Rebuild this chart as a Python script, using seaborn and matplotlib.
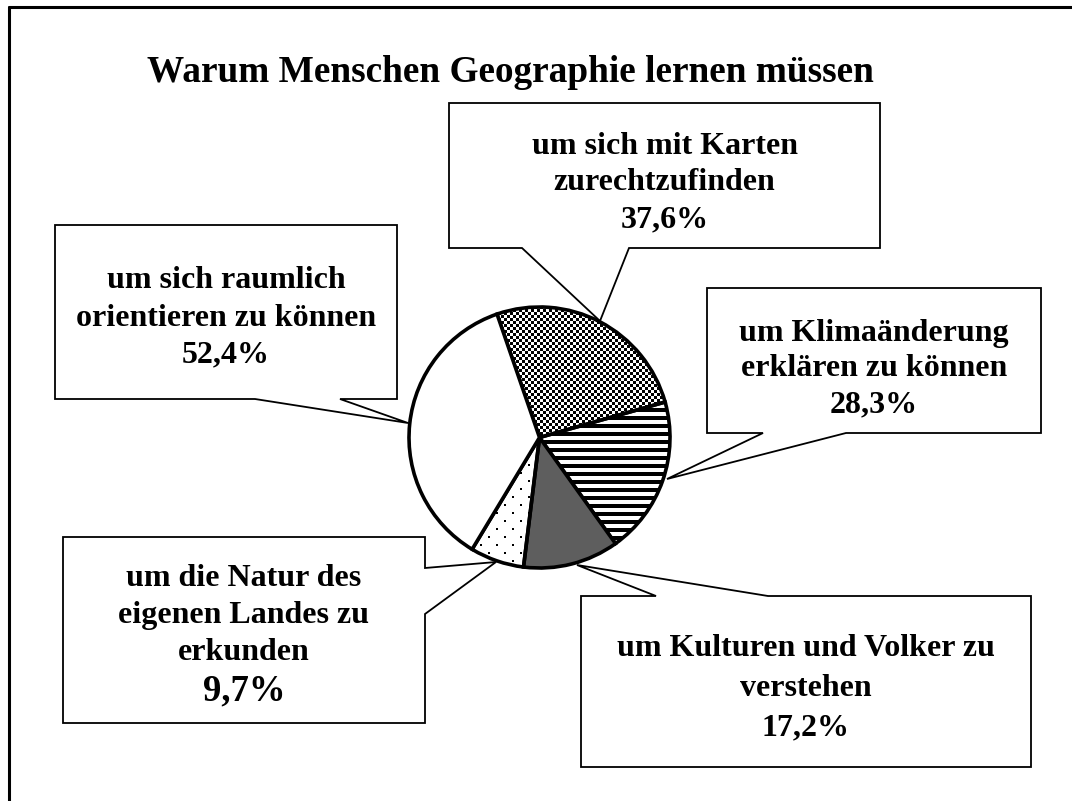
import numpy as np
import seaborn as sns
import matplotlib.pyplot as plt
from matplotlib.patches import Polygon

# Survey answers (multiple answers allowed, so shares add up to more than 100 %)
answers = [
    "um sich mit Karten\nzurechtzufinden",
    "um Klimaänderung\nerklären zu können",
    "um Kulturen und Volker zu\nverstehen",
    "um die Natur des\neigenen Landes zu\nerkunden",
    "um sich raumlich\norientieren zu können",
]
shares = [37.6, 28.3, 17.2, 9.7, 52.4]
fills = ["checker", "stripes", "#5e5e5e", "dots", "white"]
title = "Warum Menschen Geographie lernen müssen"

sns.set_style("white")
plt.rcParams["font.family"] = ["Liberation Serif", "DejaVu Serif"]
plt.rcParams["font.weight"] = "bold"
plt.rcParams["text.color"] = "black"

W, H = 1072, 801
fig = plt.figure(figsize=(W / 100, H / 100), dpi=100)
ax = fig.add_axes([0, 0, 1, 1])

# pie in pixel coordinates (y axis points down)
cx, cy, r = 539.5, 437.5, 130.5
wedges, _ = ax.pie(shares, startangle=-109, counterclock=True, center=(cx, cy), radius=r,
                   colors=["white" if f in ("checker", "stripes", "dots") else f for f in fills],
                   wedgeprops=dict(edgecolor="black", linewidth=2.6))

yy, xx = np.mgrid[0:H, 0:W]
textures = {
    "checker": ((xx // 3 + yy // 3) % 2).astype(float),
    "stripes": (yy % 8 >= 4).astype(float),
    "dots": 1.0 - ((yy % 8 < 2) & ((xx + 8 * ((yy // 8) % 2)) % 16 < 2)).astype(float),
}
for w, f in zip(wedges, fills):
    if f in textures:
        w.set_facecolor("none")
        im = ax.imshow(textures[f], cmap="gray", vmin=0, vmax=1, extent=(0, W, H, 0),
                       interpolation="nearest", zorder=0.5)
        im.set_clip_path(w)

# callout boxes: box, side with pointer, pointer base, pointer tip
boxes = [
    ((449, 103, 880, 248), "bottom", (522, 629), (600, 321)),
    ((707, 288, 1041, 433), "bottom", (763, 846), (667, 479)),
    ((581, 596, 1031, 767), "top", (656, 768), (577, 565)),
    ((63, 537, 425, 723), "right", (568, 614), (496, 562)),
    ((55, 225, 397, 399), "bottom", (255, 340), (408, 423)),
]
first_line = [146, 333, 648, 578, 281]
line_gap = [37, 36, 40, 37, 37]


def callout_outline(box, side, base, tip):
    x0, y0, x1, y1 = box
    b1, b2 = base
    pts = [(x0, y0)]
    if side == "top":
        pts += [(b1, y0), tip, (b2, y0)]
    pts += [(x1, y0)]
    if side == "right":
        pts += [(x1, b1), tip, (x1, b2)]
    pts += [(x1, y1)]
    if side == "bottom":
        pts += [(b2, y1), tip, (b1, y1)]
    pts += [(x0, y1)]
    return pts


for i, (box, side, base, tip) in enumerate(boxes):
    ax.add_patch(Polygon(callout_outline(box, side, base, tip), closed=True,
                         facecolor="white", edgecolor="black", linewidth=1.3, zorder=3))
    xc = (box[0] + box[2]) / 2
    lines = answers[i].split("\n")
    for j, line in enumerate(lines):
        ax.text(xc, first_line[i] + j * line_gap[i], line, ha="center", va="center",
                fontsize=23, fontweight="bold", zorder=4)
    pct = f"{shares[i]:.1f}%".replace(".", ",")
    ax.text(xc, first_line[i] + len(lines) * line_gap[i] + (2 if i == 3 else 0), pct,
            ha="center", va="center", fontsize=26.5 if i == 3 else 23, fontweight="bold", zorder=4)

ax.text(510, 72, title, ha="center", va="center", fontsize=26.8, fontweight="bold")

# page frame (only top and left edges are visible)
ax.plot([9, 9], [H, 7], color="black", linewidth=2.2)
ax.plot([9, W], [7, 7], color="black", linewidth=2.2)

ax.set_xlim(0, W)
ax.set_ylim(H, 0)
ax.set_aspect("auto")
ax.axis("off")

fig.savefig("out.png", dpi=100)
